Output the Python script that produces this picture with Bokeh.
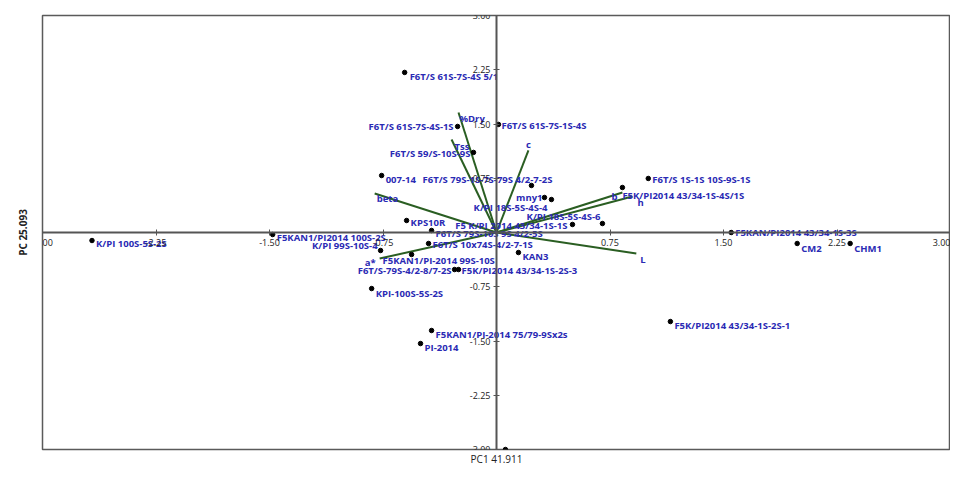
from bokeh.plotting import figure
from bokeh.models import Range1d, LinearAxis, FixedTicker, PrintfTickFormatter, ColumnDataSource, Title
from bokeh.embed import file_html
from bokeh.resources import INLINE
from bokeh.core.properties import value

# ---- data: PCA scores (PC1, PC2) ----
names = [
    "F6T/S 61S-7S-4S 5/1", "F6T/S 61S-7S-4S-1S", "F6T/S 61S-7S-1S-4S", "F6T/S 59/S-10S-9S",
    "007-14", "F6T/S 79S-1S-7S-79S 4/2-7-2S", "mny1", "K/PI 18S-5S-4S-4",
    "K/PI 18S-5S-4S-6", "F5 K/PI 2014 43/34-1S-1S", "KPS10R", "F6T/S 79S-10S 9S 4/2-5S",
    "F6T/S 10x74S-4/2-7-1S", "KAN3", "F5KAN1/PI-2014 99S-10S", "F6T/S-79S-4/2-8/7-2S",
    "F5K/PI2014 43/34-1S-2S-3", "KPI-100S-5S-2S", "F5KAN1/PI-2014 75/79-9Sx2s", "PI-2014",
    "F5K/PI2014 43/34-1S-2S-1", "K/PI 99S-3S-3/1", "F5KAN/PI2014 43/34-1S-3S", "CM2",
    "CHM1", "F6T/S 1S-1S 10S-9S-1S", "F5K/PI2014 43/34-1S-4S/1S", "K/PI 100S-5S-2S",
    "F5KAN1/PI2014 100S-2S", "K/PI 99S-10S-4",
]
pc1 = [-0.607, -0.257, 0.013, -0.152, -0.759, 0.231, 0.317, 0.363,
       0.700, 0.502, -0.594, -0.429, -0.449, 0.145, -0.561, -0.277,
       -0.251, -0.825, -0.429, -0.502, 1.149, 0.059, 1.551, 1.987,
       2.337, 1.003, 0.832, -2.673, -1.479, -0.766]
pc2 = [2.213, 1.466, 1.494, 1.107, 0.788, 0.650, 0.484, 0.456,
       0.124, 0.111, 0.166, 0.028, -0.152, -0.277, -0.304, -0.512,
       -0.512, -0.775, -1.355, -1.535, -1.231, -3.000, 0.000, -0.152,
       -0.152, 0.747, 0.622, -0.111, -0.028, -0.249]

# ---- data: variable loadings (biplot vectors) ----
var_names = ["%Dry", "Tss", "c", "beta", "a*", "L", "b", "h"]
var_pc1 = [-0.251, -0.297, 0.211, -0.805, -0.772, 0.924, 0.832, 0.898]
var_pc2 = [1.660, 1.286, 1.134, 0.539, -0.360, -0.290, 0.553, 0.498]

# ---- axis ticks / titles ----
tick_values = [-3.0, -2.25, -1.5, -0.75, 0.75, 1.5, 2.25, 3.0]
x_title = "PC1 41.911"
y_title = "PC 25.093"

# ---- label placement style (align, dx px, dy px down) ----
name_style = [
    ("left", 5, 4), ("right", -4, 0), ("left", 3, 1), ("right", -3, 1),
    ("left", 4, 4), ("right", 21, -6), ("right", -2, 0), ("right", -4, 8),
    ("right", -2, -7), ("right", -5, 1), ("left", 4, 2), ("left", 4, 3),
    ("left", 4, 1), ("left", 4, 4), ("left", -29, 6), ("right", -3, 1),
    ("left", 3, 1), ("left", 4, 5), ("left", 4, 4), ("left", 4, 4),
    ("left", 4, 4), ("left", 4, 3), ("left", 4, 0), ("left", 4, 5),
    ("left", 4, 5), ("left", 4, 1), ("left", 0, 8), ("left", 4, 3),
    ("left", 4, 3), ("right", -3, -5),
]
var_style = [
    ("left", 1, 6), ("left", 3, 7), ("center", 0, -6), ("left", 2, 5),
    ("right", -4, 4), ("left", 4, 6), ("right", -5, 4), ("left", 5, 6),
]

LABEL_COLOR = "#2a2ab4"
FONT = value("Open Sans")

p = figure(width=950, height=474, x_range=Range1d(-3, 3), y_range=Range1d(-3, 3),
           output_backend="svg", toolbar_location=None,
           x_axis_location=None, y_axis_location=None,
           min_border_left=42, min_border_right=0, min_border_top=15, min_border_bottom=25)
p.grid.visible = False
p.outline_line_color = "#5a5a5a"
p.outline_line_width = 1.5
p.background_fill_color = "white"

for loc in ("below", "left"):
    ax = LinearAxis(fixed_location=0,
                    ticker=FixedTicker(ticks=tick_values),
                    formatter=PrintfTickFormatter(format="%.2f"),
                    axis_line_color="#555555", axis_line_width=2,
                    major_tick_line_color="#555555", major_tick_in=3, major_tick_out=3,
                    minor_tick_line_color=None,
                    major_label_text_font="Open Sans",
                    major_label_text_font_size="9px",
                    major_label_text_color="#222222",
                    major_label_standoff=3)
    if loc == "left":
        ax.major_label_orientation = "horizontal"
    p.add_layout(ax, loc)

# vectors
for vx, vy in zip(var_pc1, var_pc2):
    p.segment(x0=0, y0=0, x1=vx, y1=vy, line_color="#2a5e22", line_width=2)

# points
p.scatter(pc1, pc2, size=4.5, color="black")

def add_labels(texts, xs, ys, styles):
    for align in ("left", "right", "center"):
        idx = [i for i, s in enumerate(styles) if s[0] == align]
        if not idx:
            continue
        src = ColumnDataSource(dict(
            x=[xs[i] for i in idx], y=[ys[i] for i in idx], t=[texts[i] for i in idx],
            dx=[styles[i][1] for i in idx], dy=[styles[i][2] for i in idx]))
        p.text(x="x", y="y", text="t", x_offset="dx", y_offset="dy", source=src,
               text_align=align, text_baseline="middle", text_font=FONT,
               text_font_size="9.5px", text_color=LABEL_COLOR, text_font_style="bold")

add_labels(names, pc1, pc2, name_style)
add_labels(var_names, var_pc1, var_pc2, var_style)

p.add_layout(Title(text=x_title, align="center", text_font="Open Sans", text_font_size="10px",
                   text_font_style="normal", text_color="#222222", standoff=0), "below")
p.add_layout(Title(text=y_title, align="center", text_font="Open Sans", text_font_size="10px",
                   text_font_style="bold", text_color="#222222", standoff=25), "left")

open("out.html", "w").write(file_html(p, INLINE))
